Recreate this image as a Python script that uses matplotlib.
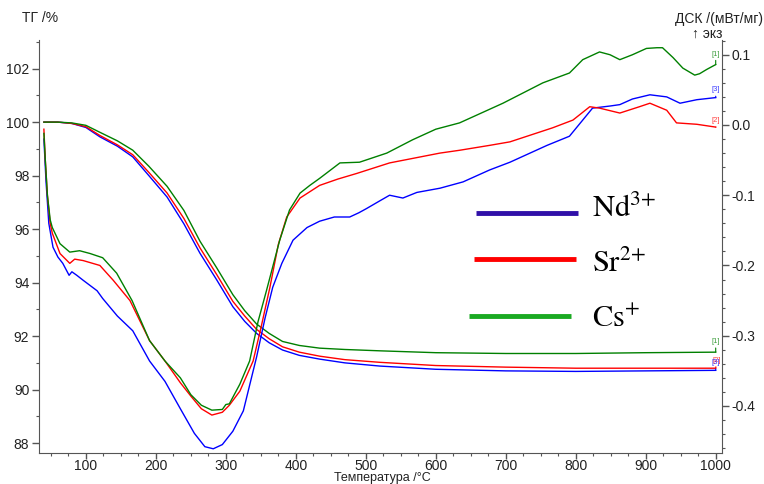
import matplotlib
matplotlib.use('Agg')
import matplotlib.pyplot as plt
from matplotlib.ticker import MultipleLocator, FormatStrFormatter

plt.rcParams['font.family'] = ['Liberation Sans', 'DejaVu Sans']
plt.rcParams['mathtext.fontset'] = 'stix'

# --- TG (mass, %) ---
t_tg = [40, 60, 80, 100, 120, 145, 167, 190, 216, 240, 263, 287, 310, 327, 344,
        362, 381, 405, 434, 470, 520, 600, 700, 800, 900, 1000]
tg_nd = [100.0, 100.0, 99.95, 99.8, 99.45, 99.1, 98.7, 98.0, 97.2, 96.2, 95.1, 94.1,
         93.1, 92.55, 92.1, 91.75, 91.48, 91.28, 91.14, 91.0, 90.88, 90.76, 90.7,
         90.68, 90.7, 90.72]
tg_sr = [100.0, 100.0, 99.95, 99.83, 99.5, 99.15, 98.78, 98.12, 97.35, 96.4, 95.3,
         94.3, 93.3, 92.75, 92.25, 91.9, 91.6, 91.4, 91.25, 91.12, 91.02, 90.9,
         90.84, 90.8, 90.8, 90.8]
tg_cs = [100.0, 100.0, 99.97, 99.88, 99.62, 99.3, 98.95, 98.35, 97.6, 96.7, 95.55,
         94.55, 93.55, 92.95, 92.45, 92.1, 91.8, 91.65, 91.55, 91.5, 91.45, 91.38,
         91.35, 91.35, 91.38, 91.4]

# --- DSC (mW/mg) ---
t_nd = [40, 43, 47, 53, 60, 67, 76, 80, 87, 96, 116, 124, 145, 167, 191, 213, 235,
        255, 270, 282, 295, 310, 325, 344, 356, 367, 380, 396, 416, 434, 455, 477,
        490, 501, 520, 534, 553, 573, 606, 639, 677, 706, 759, 791, 810, 824, 849,
        863, 881, 906, 930, 949, 973, 1000]
dsc_nd = [-0.02, -0.08, -0.14, -0.174, -0.188, -0.197, -0.214, -0.209, -0.214,
          -0.221, -0.236, -0.247, -0.272, -0.293, -0.336, -0.365, -0.404, -0.439,
          -0.458, -0.461, -0.455, -0.436, -0.407, -0.33, -0.275, -0.231, -0.197,
          -0.164, -0.146, -0.137, -0.131, -0.131, -0.125, -0.119, -0.108, -0.1,
          -0.104, -0.096, -0.09, -0.081, -0.064, -0.053, -0.029, -0.016, 0.007,
          0.024, 0.027, 0.029, 0.037, 0.043, 0.04, 0.031, 0.036, 0.039]

t_sr = [40, 42, 45, 49, 52, 63, 77, 84, 96, 120, 139, 163, 191, 213, 235, 250, 265,
        280, 295, 305, 320, 339, 351, 363, 375, 387, 406, 434, 460, 487, 534, 570,
        606, 634, 677, 706, 767, 796, 820, 834, 863, 891, 906, 930, 944, 973, 1000]
dsc_sr = [-0.006, -0.05, -0.1, -0.14, -0.154, -0.183, -0.197, -0.191, -0.193, -0.2,
          -0.221, -0.25, -0.307, -0.336, -0.367, -0.386, -0.404, -0.413, -0.409,
          -0.399, -0.379, -0.336, -0.285, -0.231, -0.17, -0.131, -0.104, -0.086,
          -0.077, -0.069, -0.054, -0.047, -0.04, -0.036, -0.029, -0.024, -0.004,
          0.007, 0.026, 0.024, 0.017, 0.026, 0.031, 0.021, 0.003, 0.001, -0.003]

t_cs = [40, 42, 45, 49, 52, 63, 77, 91, 106, 124, 144, 166, 191, 213, 235, 250, 265,
        280, 295, 300, 305, 320, 334, 346, 358, 377, 391, 406, 420, 434, 463, 491,
        530, 567, 600, 634, 696, 753, 791, 810, 834, 849, 863, 881, 901, 916, 924,
        939, 953, 970, 977, 987, 1000]
dsc_cs = [-0.012, -0.05, -0.1, -0.135, -0.146, -0.169, -0.181, -0.179, -0.183,
          -0.189, -0.211, -0.25, -0.307, -0.336, -0.36, -0.384, -0.399, -0.406,
          -0.405, -0.398, -0.397, -0.369, -0.336, -0.28, -0.236, -0.164, -0.121,
          -0.097, -0.086, -0.076, -0.054, -0.053, -0.04, -0.021, -0.006, 0.003,
          0.031, 0.06, 0.074, 0.093, 0.104, 0.1, 0.093, 0.1, 0.109, 0.11, 0.11,
          0.096, 0.081, 0.071, 0.073, 0.079, 0.086]

c_nd = '#0000ff'
c_sr = '#ff0000'
c_cs = '#008000'

fig = plt.figure(figsize=(7.64, 4.84), dpi=100)
ax = fig.add_axes([39/764, 1 - 453/484, 683/764, 413/484])
ax2 = ax.twinx()

lw = 1.0
ax.plot(t_tg, tg_nd, color=c_nd, lw=lw)
ax.plot(t_tg, tg_sr, color=c_sr, lw=lw)
ax.plot(t_tg, tg_cs, color=c_cs, lw=lw)
ax2.plot(t_nd, dsc_nd, color=c_nd, lw=lw)
ax2.plot(t_sr, dsc_sr, color=c_sr, lw=lw)
ax2.plot(t_cs, dsc_cs, color=c_cs, lw=lw)

# end-of-curve markers [n]
def end_mark(a, t, v, txt, col, dy, dx=0):
    a.annotate(txt, xy=(t[-1], v[-1]), xytext=(dx, dy), textcoords='offset points',
               ha='center', va='bottom', fontsize=5.5, color=col, alpha=0.75,
               arrowprops=dict(arrowstyle='-', color=col, lw=0.8, shrinkA=0, shrinkB=0))

end_mark(ax, t_tg, tg_cs, '[1]', c_cs, 5)
end_mark(ax, t_tg, tg_sr, '[2]', c_sr, 3, 0.6)
end_mark(ax, t_tg, tg_nd, '[3]', c_nd, 3)
end_mark(ax2, t_cs, dsc_cs, '[1]', c_cs, 5)
end_mark(ax2, t_sr, dsc_sr, '[2]', c_sr, 2)
end_mark(ax2, t_nd, dsc_nd, '[3]', c_nd, 3)

ax.set_xlim(33, 1009)
ax.set_ylim(87.63, 103.07)
ax2.set_ylim(-0.467, 0.121)

spc = '#555555'
for a in (ax, ax2):
    for s in a.spines.values():
        s.set_color(spc)
    a.spines['top'].set_visible(False)
ax.spines['right'].set_visible(False)
ax2.spines['left'].set_visible(False)
ax2.spines['bottom'].set_visible(False)

ax.xaxis.set_major_locator(MultipleLocator(100))
ax.xaxis.set_minor_locator(MultipleLocator(25))
ax.yaxis.set_major_locator(MultipleLocator(2))
ax.yaxis.set_minor_locator(MultipleLocator(1))
ax2.yaxis.set_major_locator(MultipleLocator(0.1))
ax2.yaxis.set_minor_locator(MultipleLocator(0.02))
ax2.yaxis.set_major_formatter(FormatStrFormatter('%.1f'))

for a in (ax, ax2):
    a.tick_params(which='major', length=5, width=1, color=spc, labelsize=10,
                  labelcolor='#222222', pad=2)
    a.tick_params(which='minor', length=2.5, width=0.8, color=spc)
ax.tick_params(axis='x', which='major', length=4, pad=0.5)

# legend keys
legend_items = [(r'$\mathrm{Nd}^{3\!+}$', '#3010a8', 0.640, 0.789, 0.581, 0.571),
                (r'$\mathrm{Sr}^{2\!+}$', '#ff0000', 0.637, 0.786, 0.470, 0.438),
                (r'$\mathrm{Cs}^{+}$', '#1aaa22', 0.630, 0.779, 0.332, 0.305)]
for lab, col, x0, x1, yl, yt in legend_items:
    ax.plot([x0, x1], [yl, yl], transform=ax.transAxes, color=col, lw=3.5,
            solid_capstyle='butt')
    ax.text(0.810, yt, lab, transform=ax.transAxes, fontsize=22,
            va='baseline', ha='left', color='black')

fig.text(22/764, 1 - 18/484, 'ТГ /%', fontsize=10, va='center', ha='left', color='#222222')
fig.text(763/764, 1 - 19/484, 'ДСК /(мВт/мг)', fontsize=10, va='center', ha='right',
         color='#222222')
fig.text(722/764, 1 - 34/484, '↑ экз', fontsize=10, va='center', ha='right',
         color='#222222')
fig.text(382/764, 0, 'Температура /°C', fontsize=9, va='bottom',
         ha='center', color='#222222')

fig.savefig('out.png', dpi=100)
